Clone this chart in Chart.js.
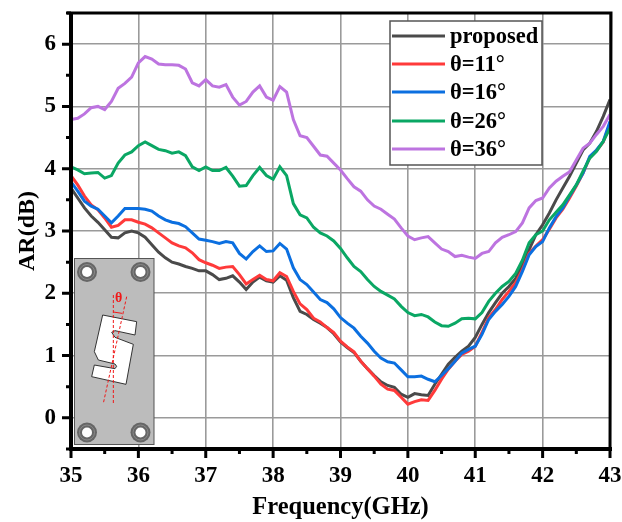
<!DOCTYPE html>
<html><head><meta charset="utf-8">
<style>html,body{margin:0;padding:0;background:#fff}#w{width:622px;height:522px;position:relative}</style>
<script src="https://cdn.jsdelivr.net/npm/chart.js@4"></script>
</head><body><div id="w"><canvas id="c" width="622" height="522"></canvas></div>
<script>
const frequency = [35,35.1,35.2,35.3,35.4,35.5,35.6,35.7,35.8,35.9,
36,36.1,36.2,36.3,36.4,36.5,36.6,36.7,36.8,36.9,
37,37.1,37.2,37.3,37.4,37.5,37.6,37.7,37.8,37.9,
38,38.1,38.2,38.3,38.4,38.5,38.6,38.7,38.8,38.9,
39,39.1,39.2,39.3,39.4,39.5,39.6,39.7,39.8,39.9,
40,40.1,40.2,40.3,40.4,40.5,40.6,40.7,40.8,40.9,
41,41.1,41.2,41.3,41.4,41.5,41.6,41.7,41.8,41.9,
42,42.1,42.2,42.3,42.4,42.5,42.6,42.7,42.8,42.9,43];
const proposed = [3.69,3.53,3.37,3.24,3.14,3.02,2.90,2.89,2.97,3.00,
2.97,2.90,2.78,2.66,2.57,2.50,2.47,2.43,2.40,2.36,
2.36,2.30,2.22,2.24,2.28,2.18,2.06,2.18,2.26,2.20,
2.18,2.28,2.21,1.93,1.71,1.66,1.58,1.52,1.45,1.35,
1.22,1.13,1.05,0.91,0.79,0.68,0.58,0.52,0.49,0.38,
0.33,0.39,0.37,0.36,0.54,0.70,0.86,0.97,1.07,1.15,
1.29,1.50,1.69,1.85,2.00,2.11,2.24,2.46,2.70,2.94,
3.10,3.29,3.50,3.69,3.88,4.09,4.30,4.41,4.60,4.84,5.11];
const theta11 = [3.89,3.74,3.56,3.42,3.34,3.21,3.06,3.09,3.18,3.18,
3.14,3.11,3.05,2.97,2.89,2.81,2.76,2.73,2.65,2.54,
2.49,2.45,2.40,2.42,2.43,2.30,2.15,2.22,2.29,2.22,
2.20,2.33,2.27,2.03,1.83,1.74,1.60,1.54,1.45,1.37,
1.23,1.14,1.06,0.91,0.79,0.67,0.54,0.46,0.44,0.33,
0.22,0.26,0.29,0.28,0.44,0.62,0.78,0.91,1.02,1.07,
1.15,1.37,1.61,1.74,1.90,2.03,2.17,2.38,2.64,2.76,
2.86,3.03,3.21,3.35,3.53,3.72,3.93,4.18,4.29,4.43,4.72];
const theta16 = [3.79,3.64,3.48,3.40,3.35,3.24,3.13,3.24,3.36,3.36,
3.36,3.35,3.32,3.24,3.18,3.14,3.12,3.07,2.97,2.87,
2.85,2.83,2.80,2.83,2.81,2.64,2.55,2.67,2.76,2.67,
2.68,2.80,2.71,2.41,2.22,2.14,2.02,1.90,1.85,1.75,
1.61,1.52,1.44,1.31,1.20,1.07,0.96,0.90,0.88,0.77,
0.66,0.66,0.67,0.62,0.58,0.68,0.79,0.91,1.04,1.10,
1.15,1.34,1.58,1.71,1.82,1.95,2.11,2.35,2.62,2.75,
2.83,3.05,3.23,3.37,3.56,3.74,3.93,4.20,4.30,4.44,4.76];
const theta26 = [4.03,3.98,3.92,3.93,3.94,3.85,3.89,4.09,4.22,4.27,
4.37,4.43,4.37,4.31,4.29,4.25,4.27,4.21,4.03,3.97,
4.03,3.97,3.97,4.02,3.88,3.72,3.73,3.89,4.02,3.89,
3.83,4.03,3.89,3.44,3.26,3.21,3.06,2.97,2.92,2.84,
2.72,2.57,2.43,2.35,2.22,2.11,2.03,1.97,1.91,1.79,
1.69,1.64,1.66,1.62,1.54,1.48,1.47,1.52,1.59,1.60,
1.59,1.69,1.87,2.00,2.11,2.19,2.32,2.53,2.81,2.94,
3.00,3.18,3.30,3.42,3.58,3.74,3.96,4.17,4.28,4.44,4.65];
const theta36 = [4.79,4.81,4.88,4.98,5.00,4.95,5.08,5.29,5.37,5.47,
5.70,5.80,5.76,5.68,5.67,5.67,5.66,5.60,5.38,5.33,
5.43,5.33,5.31,5.35,5.15,5.02,5.08,5.23,5.33,5.15,
5.10,5.32,5.23,4.79,4.53,4.50,4.36,4.22,4.20,4.09,
3.98,3.84,3.71,3.64,3.50,3.40,3.35,3.27,3.19,3.05,
2.92,2.86,2.89,2.91,2.81,2.71,2.67,2.59,2.61,2.58,
2.56,2.64,2.67,2.81,2.90,2.94,2.99,3.13,3.37,3.49,
3.53,3.69,3.80,3.88,3.95,4.14,4.33,4.41,4.55,4.68,4.87];
const seriesNames = ['proposed','θ=11°','θ=16°','θ=26°','θ=36°'];
const seriesColors = ['#4a4a4a','#ff3a3a','#0b6fe0','#0aa764','#bd74e0'];
const seriesValues = [proposed,theta11,theta16,theta26,theta36];

const FONT = '"Liberation Serif","Times New Roman",serif';
const GRID = '#9a9a9a';

const framePlugin = {
  id:'frame',
  afterDatasetsDraw(chart){
    const {ctx,chartArea:a,scales:{x,y}} = chart;
    ctx.save();
    ctx.strokeStyle='#000';
    ctx.lineWidth=3;
    ctx.beginPath();
    x.ticks.forEach(t=>{
      const p=x.getPixelForValue(t.value), L=Number.isInteger(t.value)?9:5;
      ctx.moveTo(p,a.bottom); ctx.lineTo(p,a.bottom+L);
    });
    y.ticks.forEach(t=>{
      const p=y.getPixelForValue(t.value), L=Number.isInteger(t.value)?9:5;
      ctx.moveTo(a.left,p); ctx.lineTo(a.left-L,p);
    });
    ctx.stroke();
    ctx.lineWidth=4;
    ctx.beginPath();
    ctx.moveTo(a.left,a.top); ctx.lineTo(a.left,a.bottom);
    ctx.moveTo(a.left-2,a.bottom); ctx.lineTo(a.right+2,a.bottom);
    ctx.stroke();
    ctx.lineWidth=3;
    ctx.beginPath();
    ctx.moveTo(a.left-4,a.top); ctx.lineTo(a.right+1,a.top); ctx.lineTo(a.right,a.bottom);
    ctx.stroke();
    ctx.restore();
    drawLegend(ctx);
    drawInset(ctx);
  }
};

function drawLegend(ctx){
  const rows=[36,64,92,121,149];
  ctx.save();
  ctx.fillStyle='#fff';
  ctx.fillRect(390,21,152,144);
  ctx.strokeStyle='#555'; ctx.lineWidth=1.5;
  ctx.strokeRect(390,21,152,144);
  ctx.textBaseline='middle'; ctx.textAlign='left';
  ctx.font='bold 22.5px '+FONT;
  seriesNames.forEach((n,i)=>{
    ctx.strokeStyle=seriesColors[i]; ctx.lineWidth=3.2;
    ctx.beginPath(); ctx.moveTo(392,rows[i]); ctx.lineTo(445,rows[i]); ctx.stroke();
    ctx.fillStyle='#000';
    ctx.fillText(n,450,rows[i]+1);
  });
  ctx.restore();
}

function drawInset(ctx){
  const X=v=>v/3, Y=v=>250+v/3;
  ctx.save();
  ctx.fillStyle='#bcbcbc'; ctx.strokeStyle='#555'; ctx.lineWidth=1;
  ctx.fillRect(74.5,258.5,79.5,186); ctx.strokeRect(74.5,258.5,79.5,186);
  [[87,272],[140.5,272],[87,432.5],[140.5,432.5]].forEach(([cx,cy])=>{
    ctx.beginPath(); ctx.arc(cx,cy,10,0,Math.PI*2); ctx.fillStyle='#666'; ctx.fill();
    ctx.beginPath(); ctx.arc(cx,cy,7.5,0,Math.PI*2); ctx.strokeStyle='#8a8a8a'; ctx.lineWidth=1; ctx.stroke();
    ctx.beginPath(); ctx.arc(cx,cy,5,0,Math.PI*2); ctx.fillStyle='#fff'; ctx.fill();
  });
  const pts=[[308,195],[410,215],[405,255],[345,242],[335,247],[345,262],[400,283],[378,403],[275,380],[283,345],[345,356],[350,349],[345,342],[295,330],[283,305]];
  ctx.beginPath();
  pts.forEach((p,i)=>i?ctx.lineTo(X(p[0]),Y(p[1])):ctx.moveTo(X(p[0]),Y(p[1])));
  ctx.closePath();
  ctx.fillStyle='#fff'; ctx.fill();
  ctx.strokeStyle='#333'; ctx.lineWidth=1; ctx.lineJoin='round'; ctx.stroke();
  ctx.strokeStyle='#f01818'; ctx.setLineDash([3,2]); ctx.lineWidth=1;
  ctx.beginPath();
  ctx.moveTo(X(340),Y(135)); ctx.lineTo(X(340),Y(465));
  ctx.moveTo(X(380),Y(140)); ctx.lineTo(X(310),Y(460));
  ctx.stroke();
  ctx.setLineDash([]);
  ctx.beginPath(); ctx.moveTo(X(340),Y(186)); ctx.lineTo(X(366),Y(190)); ctx.stroke();
  ctx.fillStyle='#f01818'; ctx.font='bold 14px '+FONT;
  ctx.textAlign='center'; ctx.textBaseline='middle';
  ctx.fillText('θ',X(356),Y(146));
  ctx.restore();
}

new Chart(document.getElementById('c'),{
  type:'line',
  data:{labels:frequency,datasets:seriesNames.map((n,i)=>({
    label:n,
    data:frequency.map((f,k)=>({x:f,y:seriesValues[i][k]})),
    borderColor:seriesColors[i],
    backgroundColor:seriesColors[i],
    borderWidth:3,
    pointRadius:0,
    tension:0,
    order:5-i
  }))},
  plugins:[framePlugin],
  options:{
    responsive:false,animation:false,
    layout:{padding:{top:13,right:12,left:0,bottom:0}},
    plugins:{legend:{display:false},tooltip:{enabled:false}},
    scales:{
      x:{type:'linear',min:35,max:43,
        afterFit(s){s.height=73;s.paddingLeft=0;s.paddingRight=0;},
        border:{display:false},
        grid:{drawTicks:false,lineWidth:1.6,color:c=>Number.isInteger(c.tick.value)?GRID:'rgba(0,0,0,0)'},
        ticks:{stepSize:0.5,autoSkip:false,maxRotation:0,padding:13,color:'#000',
          font:{family:FONT,size:23,weight:'bold'},
          callback:v=>Number.isInteger(v)?String(v):''},
        title:{display:true,text:'Frequency(GHz)',color:'#000',font:{family:FONT,size:24.5,weight:'bold'},padding:{top:0,bottom:0}}
      },
      y:{type:'linear',min:-0.5,max:6.5,
        afterFit(s){s.width=71;s.paddingTop=0;s.paddingBottom=0;},
        border:{display:false},
        grid:{drawTicks:false,lineWidth:1.6,color:c=>Number.isInteger(c.tick.value)?GRID:'rgba(0,0,0,0)'},
        ticks:{stepSize:0.5,autoSkip:false,padding:15,color:'#000',
          font:{family:FONT,size:23,weight:'bold'},
          callback:v=>Number.isInteger(v)?String(v):''},
        title:{display:true,text:'AR(dB)',color:'#000',font:{family:FONT,size:24,weight:'bold'},padding:{top:13,bottom:0}}
      }
    }
  }
});
</script></body></html>
